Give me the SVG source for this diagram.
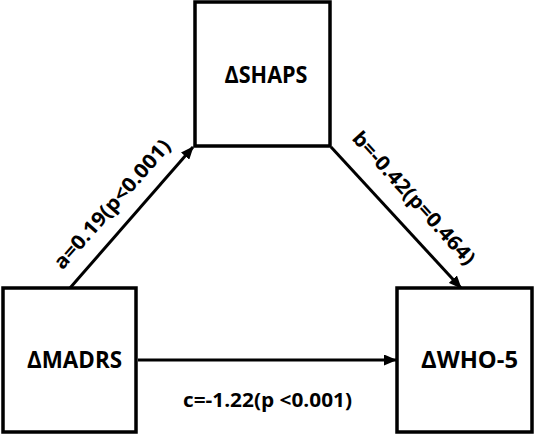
<svg xmlns="http://www.w3.org/2000/svg" width="536" height="434" viewBox="0 0 536 434">
<style>
.box{fill:#fff;stroke:#000;stroke-width:3.5}
.lbl{font-family:"Open Sans","Liberation Sans",sans-serif;font-weight:bold;font-size:22.5px;fill:#000;text-anchor:middle}
.el{font-family:"Open Sans","Liberation Sans",sans-serif;font-weight:bold;font-size:20px;fill:#000;text-anchor:middle}
.con{stroke:#000;stroke-width:3;fill:none;marker-end:url(#ah)}
</style>
<defs>
<marker id="ah" markerUnits="userSpaceOnUse" markerWidth="13" markerHeight="11" viewBox="0 0 13 11" refX="12" refY="5.5" orient="auto">
<path d="M0,0 L13,5.5 L0,11 Z" fill="#000"/>
</marker>
</defs>
<g id="connectors">
<line class="con" x1="70" y1="288" x2="193" y2="147"/>
<line class="con" x1="331" y1="147" x2="461" y2="288"/>
<line class="con" x1="138" y1="360" x2="396" y2="360"/>
<text class="el" transform="translate(112,204) rotate(-48.5)" y="7" textLength="165" lengthAdjust="spacingAndGlyphs">a=0.19(p&lt;0.001)</text>
<text class="el" transform="translate(414,198) rotate(47.8)" y="7" textLength="172" lengthAdjust="spacingAndGlyphs">b=-0.42(p=0.464)</text>
<text class="el" x="267.5" y="407" textLength="169" lengthAdjust="spacingAndGlyphs">c=-1.22(p &lt;0.001)</text>
</g>
<g id="shaps">
<rect class="box" x="195" y="2" width="135" height="144"/>
<text class="lbl" x="266" y="83" textLength="83" lengthAdjust="spacingAndGlyphs">ΔSHAPS</text>
</g>
<g id="madrs">
<rect class="box" x="3" y="288" width="133" height="144"/>
<text class="lbl" x="74.5" y="368" textLength="95" lengthAdjust="spacingAndGlyphs">ΔMADRS</text>
</g>
<g id="who5">
<rect class="box" x="397" y="288" width="135" height="144"/>
<text class="lbl" x="469.5" y="368" textLength="97" lengthAdjust="spacingAndGlyphs">ΔWHO-5</text>
</g>
</svg>
